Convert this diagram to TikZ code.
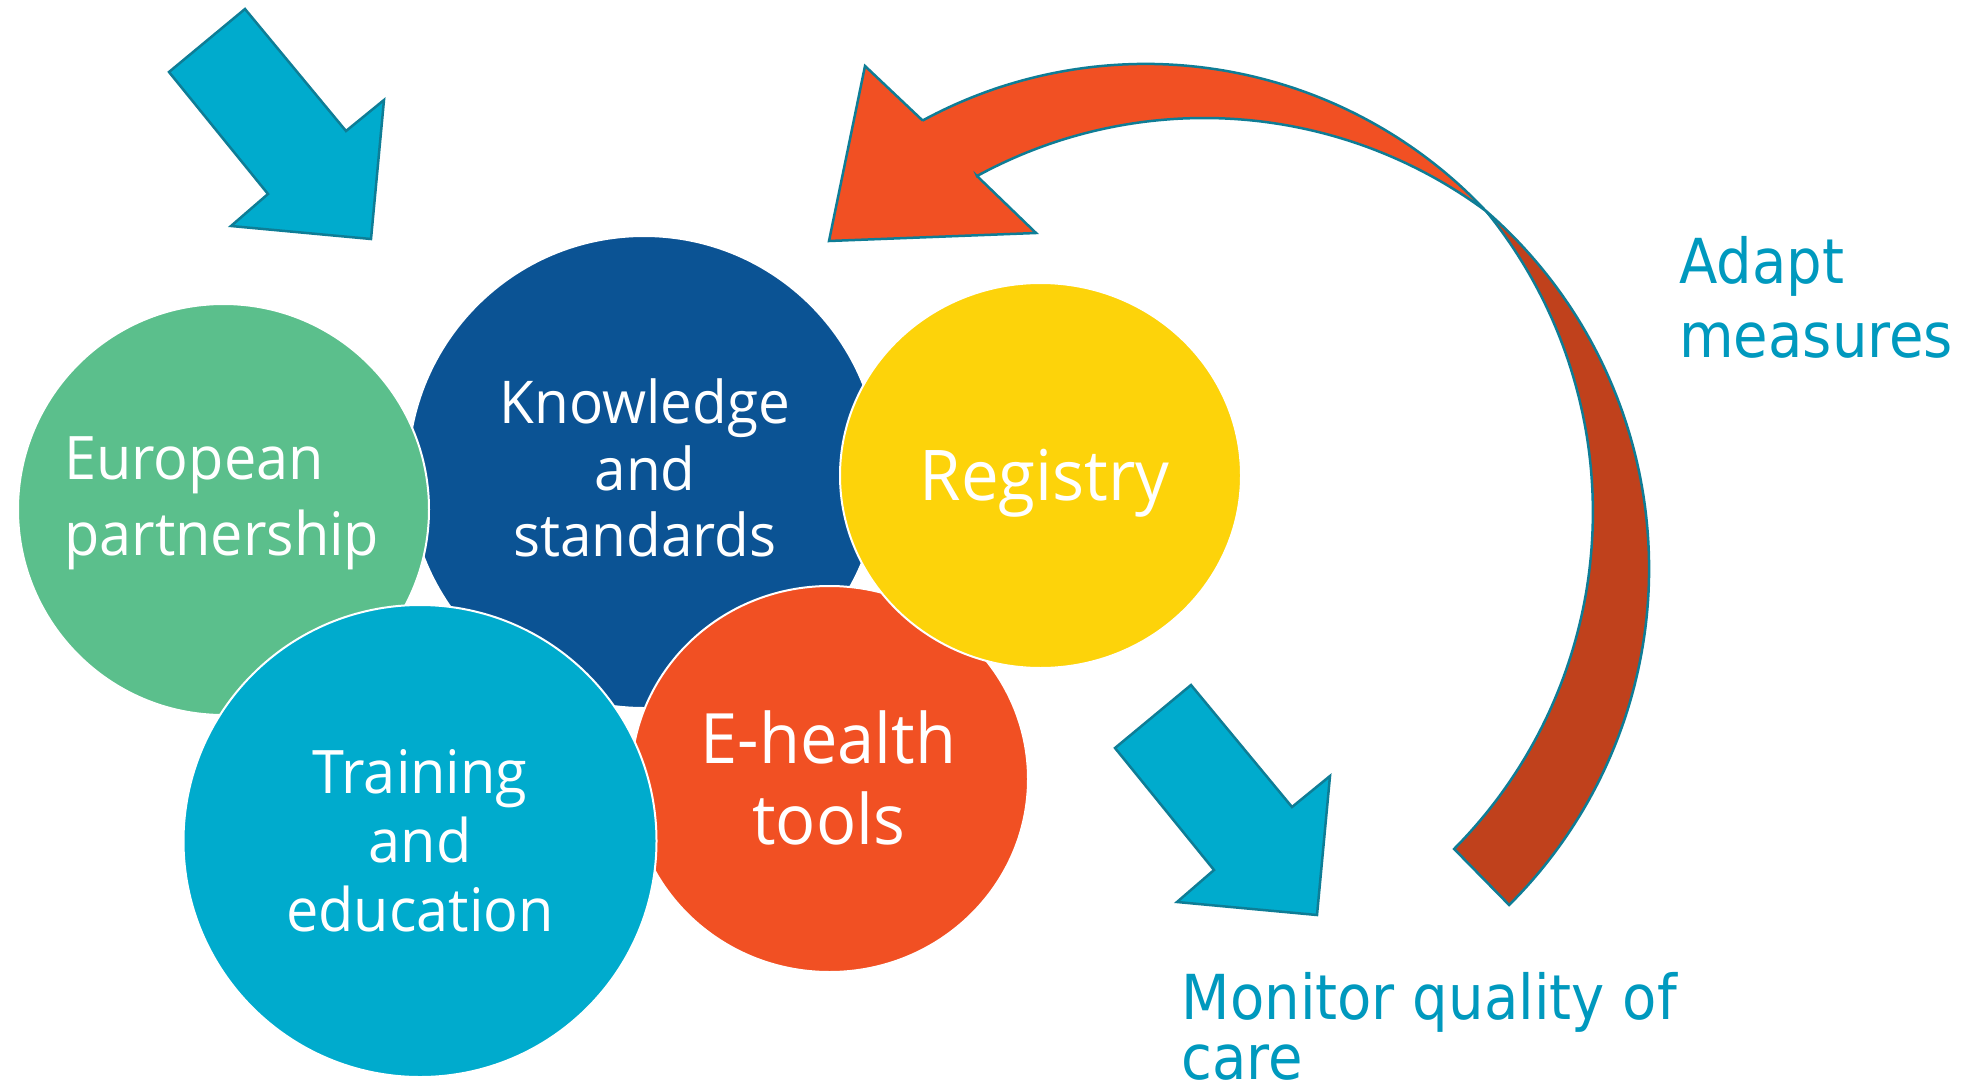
\documentclass[tikz,border=0pt]{standalone}
\usepackage{fontspec}
\usetikzlibrary{shapes.geometric}
\newfontfamily\circfont[FakeStretch=0.96]{Open Sans}
\newfontfamily\labfont[FakeStretch=0.905]{DejaVu Sans}
\definecolor{cgreen}{HTML}{5BBF8C}
\definecolor{cnavy}{HTML}{0B5394}
\definecolor{cyellow}{HTML}{FDD30A}
\definecolor{corange}{HTML}{F15023}
\definecolor{cteal}{HTML}{00ABCD}
\definecolor{cdark}{HTML}{C0411C}
\definecolor{cedge}{HTML}{0E7D96}
\definecolor{clabel}{HTML}{0099BE}
\begin{document}
\begin{tikzpicture}[x=1pt,y=-1pt,
  bub/.style={ellipse, draw=white, line width=2pt, inner sep=0pt},
  ctext/.style={text=white, inner sep=0pt, anchor=base},
  ltext/.style={text=clabel, inner sep=0pt, anchor=base west, font=\labfont\fontsize{62}{70}\selectfont},
  arrowshape/.style={draw=cedge, line width=2.5pt, line join=miter}]
\useasboundingbox (0,0) rectangle (1980,1089);
\fill[white] (0,0) rectangle (1980,1089);

% circles
\node[bub, fill=cnavy, minimum width=472pt, minimum height=472pt] (know) at (644,472) {};
\node[bub, fill=cgreen, minimum width=411pt, minimum height=411pt] (euro) at (223.5,509.5) {};
\node[bub, fill=corange, minimum width=397pt, minimum height=386pt] (ehealth) at (829.5,779) {};
\node[bub, fill=cyellow, minimum width=401pt, minimum height=385pt] (reg) at (1040.5,475.5) {};
\node[bub, fill=cteal, minimum width=473pt, minimum height=472pt] (train) at (420,841) {};

% blue arrows
\filldraw[arrowshape, fill=cteal] (245,9) -- (169,72) -- (268,194) -- (231,226) -- (371,239) -- (384,100) -- (346,131) -- cycle;
\filldraw[arrowshape, fill=cteal, shift={(946,676)}] (245,9) -- (169,72) -- (268,194) -- (231,226) -- (371,239) -- (384,100) -- (346,131) -- cycle;

% curved orange arrow: front face with head
\filldraw[arrowshape, fill=corange] (922.6,120.5) -- (865,66) -- (829,241) -- (1036,233) -- (977,176)
  -- plot[domain=-118.66:-53.47, samples=80] ({1204.1+473.5*cos(\x)},{591.5+473.5*sin(\x)})
  -- plot[domain=-43.25:-118.5, samples=80] ({1145.5+467.4*cos(\x)},{531.3+467.4*sin(\x)})
  -- cycle;
% back face
\filldraw[arrowshape, fill=cdark]
  plot[domain=-49:45.2, samples=90] ({1175.2+473.9*cos(\x)},{568.7+473.9*sin(\x)})
  -- plot[domain=44.8:-39.07, samples=90] ({1115.0+477.9*cos(\x)},{512.2+477.9*sin(\x)})
  -- cycle;

% circle texts
\node[ctext, anchor=base west, font=\circfont\fontsize{60}{72}\selectfont] (eu1) at (64,479) {European};
\node[ctext, anchor=base west, font=\circfont\fontsize{60}{72}\selectfont] (eu2) at (64,555.6) {partnership};
\node[ctext, font=\circfont\fontsize{59}{70}\selectfont] (kn1) at (645,423.3) {Knowledge};
\node[ctext, font=\circfont\fontsize{59}{70}\selectfont] (kn2) at (645,490) {and};
\node[ctext, font=\circfont\fontsize{59}{70}\selectfont] (kn3) at (645,556.7) {standards};
\node[ctext, font=\circfont\fontsize{70}{80}\selectfont] (rg1) at (1044.7,500) {Registry};
\node[ctext, font=\circfont\fontsize{69.5}{80}\selectfont] (eh1) at (828.6,763.6) {E-health};
\node[ctext, font=\circfont\fontsize{69.5}{80}\selectfont] (eh2) at (828.6,844) {tools};
\node[ctext, font=\circfont\fontsize{60}{72}\selectfont] (tr1) at (420,793) {Training};
\node[ctext, font=\circfont\fontsize{60}{72}\selectfont] (tr2) at (420,862) {and};
\node[ctext, font=\circfont\fontsize{60}{72}\selectfont] (tr3) at (420,931) {education};

% labels
\node[ltext] (ad1) at (1679,283) {Adapt};
\node[ltext] (ad2) at (1679,357) {measures};
\node[ltext] (mo1) at (1181.5,1019) {Monitor quality of};
\node[ltext] (mo2) at (1181.5,1079) {care};
\end{tikzpicture}
\end{document}
